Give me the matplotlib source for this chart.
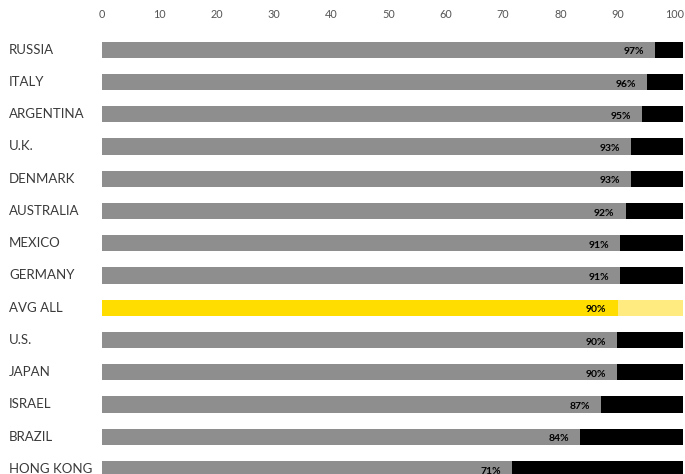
import matplotlib
matplotlib.use("Agg")
import matplotlib.pyplot as plt
import matplotlib.transforms as mtransforms

plt.rcParams['font.family'] = ['Lato', 'DejaVu Sans']

# ---- data ----
countries = ['RUSSIA', 'ITALY', 'ARGENTINA', 'U.K.', 'DENMARK', 'AUSTRALIA', 'MEXICO',
             'GERMANY', 'AVG ALL', 'U.S.', 'JAPAN', 'ISRAEL', 'BRAZIL', 'HONG KONG']
share = [96.5, 95.2, 94.2, 92.3, 92.3, 91.4, 90.4, 90.4, 90.0, 89.9, 89.9, 87.1, 83.4, 71.6]
labels = ['97%', '96%', '95%', '93%', '93%', '92%', '91%', '91%', '90%', '90%', '90%',
          '87%', '84%', '71%']
highlight = 'AVG ALL'
ticks = [0, 10, 20, 30, 40, 50, 60, 70, 80, 90, 100]

# ---- styling ----
GRAY = '#8e8e8e'
BLACK = '#000000'
YELLOW = '#ffdd00'
LIGHT_YELLOW = '#ffeb80'
XMAX = 101.4   # background track runs slightly past 100

W, H = 685, 474
fig = plt.figure(figsize=(W / 100, H / 100), dpi=100)
ax_top_px = 30
ax = fig.add_axes([102 / W, 0, 581 / W, (H - ax_top_px) / H])

# row spacing in pixels, last row is cut by the bottom edge
row0, step = 49.7, 32.25
y_top = (ax_top_px - row0) / step
y_bot = (H - row0) / step

ypos = list(range(len(countries)))
for y, name, v, lab in zip(ypos, countries, share, labels):
    if name == highlight:
        fg, bg = YELLOW, LIGHT_YELLOW
    else:
        fg, bg = GRAY, BLACK
    ax.barh(y, XMAX, height=0.5, color=bg, linewidth=0)
    ax.barh(y, v, height=0.5, color=fg, linewidth=0)
    ax.annotate(lab, xy=(v, y), xytext=(-8, -1.5), textcoords='offset points',
                ha='right', va='center', fontsize=7.5, fontweight='bold', color='#000000')

trans = mtransforms.blended_transform_factory(fig.transFigure, ax.transData)
for y, name in zip(ypos, countries):
    ax.text(9 / W, y, name, transform=trans, ha='left', va='center',
            fontsize=9.5, color='#3a3a3a')

ax.set_xlim(0, XMAX)
ax.set_ylim(y_bot, y_top)
ax.xaxis.tick_top()
ax.set_xticks(ticks)
ax.set_xticklabels([str(t) for t in ticks], fontsize=7.8, color='#555555')
ax.tick_params(axis='x', length=0, pad=7)
ax.set_yticks([])
for s in ax.spines.values():
    s.set_visible(False)

fig.savefig('out.png', dpi=100)
